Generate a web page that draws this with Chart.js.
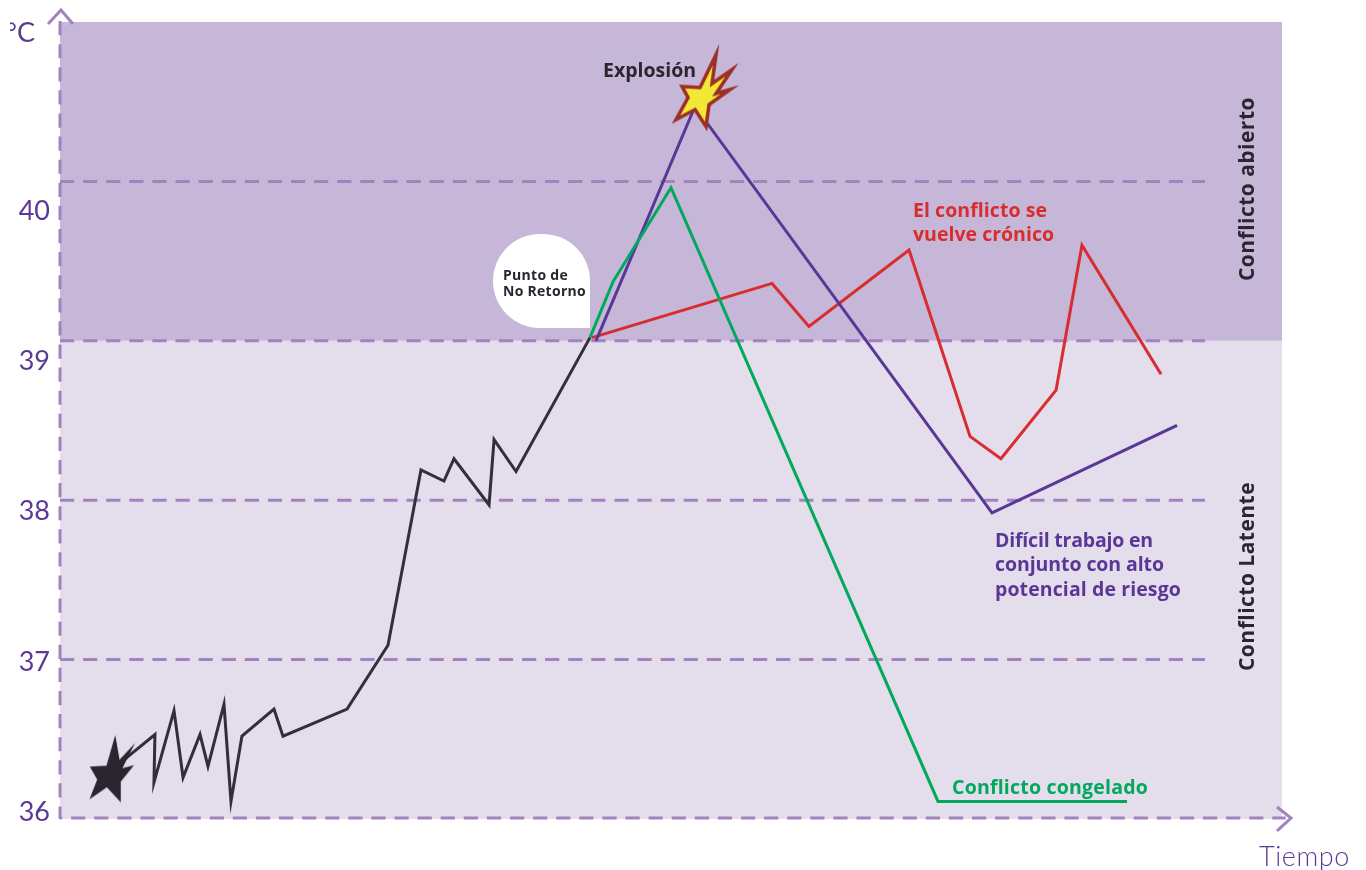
<!DOCTYPE html>
<html>
<head>
<meta charset="utf-8">
<title>Conflicto</title>
<script src="https://cdn.jsdelivr.net/npm/chart.js@4/dist/chart.umd.min.js"></script>
<style>
    html, body { margin: 0; padding: 0; background: #fff; overflow: hidden; }
    canvas { display: block; }
</style>
</head>
<body>
<canvas id="chart" width="1366" height="870"></canvas>
<script>
// Values. Time runs 0-100 along the band, temperature in degrees
const tickLabels = [36, 37, 38, 39, 40];
const gridValues = [37, 38, 39, 40];
const gridEnd = 93.7;
const bandSplit = 39;
const tempMin = 36;
const tempMax = 41;

const latentTime = [4.58, 7.77, 7.69, 9.33, 10.07, 11.46, 12.11, 13.42, 13.99, 14.89, 17.51, 18.25, 23.49, 26.84, 29.54, 31.42, 32.24, 35.11, 35.52, 37.32, 43.37];
const latentTemp = [36.33, 36.53, 36.23, 36.68, 36.26, 36.53, 36.33, 36.72, 36.11, 36.52, 36.69, 36.52, 36.69, 37.09, 38.19, 38.12, 38.26, 37.97, 38.38, 38.18, 39.02];

const frozenTime = [43.37, 45.25, 50.0, 71.85, 87.32];
const frozenTemp = [39.02, 39.37, 39.96, 36.11, 36.11];

const riskTime = [43.86, 51.96, 76.27, 91.41];
const riskTemp = [39.0, 40.47, 37.92, 38.47];

const chronicTime = [43.54, 58.27, 61.29, 69.48, 74.47, 77.0, 81.51, 83.63, 90.1];
const chronicTemp = [39.02, 39.36, 39.09, 39.57, 38.40, 38.26, 38.69, 39.60, 38.79];

const startPoint = [3.85, 36.28];
const blastPoint = [52.62, 40.57];

const AXIS_COLOR = '#a184bf';
const LABEL_COLOR = '#5b3a96';
const DASH = [14.2, 8.9];

function zip(xs, ys) {
    return xs.map((x, i) => ({ x, y: ys[i] }));
}

// star markers, used as point styles
function starCanvas(points, fill, stroke, width) {
    const c = document.createElement('canvas');
    c.width = 90;
    c.height = 100;
    const g = c.getContext('2d');
    g.translate(45, 50);
    g.beginPath();
    points.forEach((p, i) => i ? g.lineTo(p[0], p[1]) : g.moveTo(p[0], p[1]));
    g.closePath();
    g.fillStyle = fill;
    g.fill();
    g.strokeStyle = stroke;
    g.lineWidth = width;
    g.lineJoin = 'miter';
    g.miterLimit = 12;
    g.stroke();
    return c;
}

const blastStar = starCanvas(
    [[13, -36], [9, -7], [29, -21], [13, 3], [27, -1], [6, 14], [3, 36], [-8, 19], [-27, 29], [-15, 7], [-21, -4], [-3, -3]],
    '#f2e936', '#9c2f26', 3.5
);
const startStar = starCanvas(
    [[8, -36], [12, -13], [25, -27], [14, -5], [25, -8], [13, 7], [13, 26], [0, 12], [-16, 23], [-9, 5], [-16, -7], [0, -8]],
    '#2b2530', '#2b2530', 1.5
);

function line(label, xs, ys, color, order) {
    return {
        label,
        data: zip(xs, ys),
        showLine: true,
        borderColor: color,
        borderWidth: 3,
        borderJoinStyle: 'miter',
        pointRadius: 0,
        clip: false,
        order
    };
}

function dashed(label, xs, ys, offset) {
    return Object.assign(line(label, xs, ys, AXIS_COLOR, 5), {
        borderDash: DASH,
        borderDashOffset: offset || 0
    });
}

function band(label, fill, color) {
    return {
        label,
        data: zip([0, 100], [bandSplit, bandSplit]),
        showLine: true,
        borderWidth: 0,
        pointRadius: 0,
        fill,
        backgroundColor: color,
        order: 10
    };
}

function marker(label, point, image) {
    return {
        label,
        data: [{ x: point[0], y: point[1] }],
        showLine: false,
        pointStyle: image,
        pointRadius: 10,
        clip: false,
        order: 0
    };
}

const BOLD = '700 19.5px "Open Sans"';
const SMALL = '700 14px "Open Sans"';
const TEXTS = [
    { t: 'Explosión', x: 603, y: 71, w: 93, font: BOLD, color: '#2b2530' },
    { t: 'El conflicto se', x: 913, y: 211, w: 134, font: BOLD, color: '#d82c2e' },
    { t: 'vuelve crónico', x: 913, y: 235, w: 141, font: BOLD, color: '#d82c2e' },
    { t: 'Difícil trabajo en', x: 995, y: 541, w: 158, font: BOLD, color: '#5a3796' },
    { t: 'conjunto con alto', x: 995, y: 565, w: 169, font: BOLD, color: '#5a3796' },
    { t: 'potencial de riesgo', x: 995, y: 590, w: 186, font: BOLD, color: '#5a3796' },
    { t: 'Conflicto congelado', x: 952, y: 788, w: 196, font: BOLD, color: '#00a95c' },
    { t: 'Punto de', x: 503, y: 276.5, w: 65, font: SMALL, color: '#2b2530' },
    { t: 'No Retorno', x: 503, y: 292.5, w: 83, font: SMALL, color: '#2b2530' },
    { t: 'Tiempo', x: 1259, y: 857, w: 91, font: '300 27px Lato', color: LABEL_COLOR }
];

// Raleway is not installed, so spread the letters until each line is as long as in the original
function fitSpacing(ctx, text, width) {
    ctx.letterSpacing = '0px';
    const extra = (width - ctx.measureText(text).width) / text.length;
    ctx.letterSpacing = extra.toFixed(2) + 'px';
}

const annotations = {
    id: 'annotations',
    afterDatasetsDraw(chart) {
        const ctx = chart.ctx;
        ctx.save();

        // white bubble behind the label
        ctx.fillStyle = '#fff';
        ctx.beginPath();
        ctx.roundRect(493, 234, 97, 94, [48, 48, 1, 48]);
        ctx.fill();

        ctx.textBaseline = 'middle';
        ctx.textAlign = 'left';
        TEXTS.forEach(item => {
            ctx.font = item.font;
            ctx.fillStyle = item.color;
            fitSpacing(ctx, item.t, item.w);
            ctx.fillText(item.t, item.x, item.y);
        });

        // band names run up the right side
        ctx.font = '700 21px "Open Sans"';
        ctx.fillStyle = '#2b2530';
        [['Conflicto abierto', 281, 184], ['Conflicto Latente', 671, 189]].forEach(([t, y, w]) => {
            ctx.save();
            ctx.translate(1248, y);
            ctx.rotate(-Math.PI / 2);
            fitSpacing(ctx, t, w);
            ctx.fillText(t, 0, 0);
            ctx.restore();
        });
        ctx.letterSpacing = '0px';

        // unit sits cut off at the left in the original
        ctx.save();
        ctx.beginPath();
        ctx.rect(10, 0, 60, 60);
        ctx.clip();
        ctx.font = '400 27px Lato';
        ctx.fillStyle = LABEL_COLOR;
        ctx.textAlign = 'right';
        ctx.fillText('°C', 35, 33);
        ctx.restore();

        ctx.restore();
    }
};

new Chart(document.getElementById('chart'), {
    type: 'scatter',
    data: {
        datasets: [
            band('Conflicto abierto', 'end', '#c6b7d9'),
            band('Conflicto Latente', 'start', '#e3ddec'),
            ...gridValues.map(v => dashed('grid ' + v, [0, gridEnd], [v, v])),
            dashed('eje tiempo', [0, 100.3], [36.006, 36.006], 12),
            dashed('eje temperatura', [0, 0], [tempMax + 0.006, 36]),
            line('flecha y', [-0.98, 0.08, 1.06], [40.987, 41.075, 40.987], AXIS_COLOR, 5),
            line('flecha x', [99.59, 100.74, 99.59], [36.075, 36.006, 35.925], AXIS_COLOR, 5),
            line('Latente', latentTime, latentTemp, '#332e37', 2),
            line('Congelado', frozenTime, frozenTemp, '#00a95c', 2),
            line('Riesgo', riskTime, riskTemp, '#5a3796', 2),
            line('Crónico', chronicTime, chronicTemp, '#d82c2e', 2),
            marker('Inicio', startPoint, startStar),
            marker('Explosión', blastPoint, blastStar)
        ]
    },
    options: {
        responsive: false,
        animation: false,
        devicePixelRatio: 1,
        layout: { autoPadding: false, padding: { top: 22, right: 84, bottom: 51, left: 0 } },
        plugins: { legend: { display: false }, tooltip: { enabled: false } },
        scales: {
            x: { type: 'linear', min: 0, max: 100, display: false },
            y: { type: 'linear', min: tempMin, max: tempMax, display: false },
            // tick labels do not sit on the dashed lines in the original, they have their own spacing
            labels: {
                type: 'linear',
                position: 'left',
                min: 35.954,
                max: 41.258,
                afterBuildTicks(axis) { axis.ticks = tickLabels.map(value => ({ value })); },
                afterFit(axis) { axis.width = 60; axis.paddingTop = 0; axis.paddingBottom = 0; },
                grid: { display: false },
                border: { display: false },
                ticks: { color: LABEL_COLOR, padding: 2, font: { family: 'Lato', size: 27, weight: '400' } }
            }
        }
    },
    plugins: [annotations]
});
</script>
</body>
</html>
